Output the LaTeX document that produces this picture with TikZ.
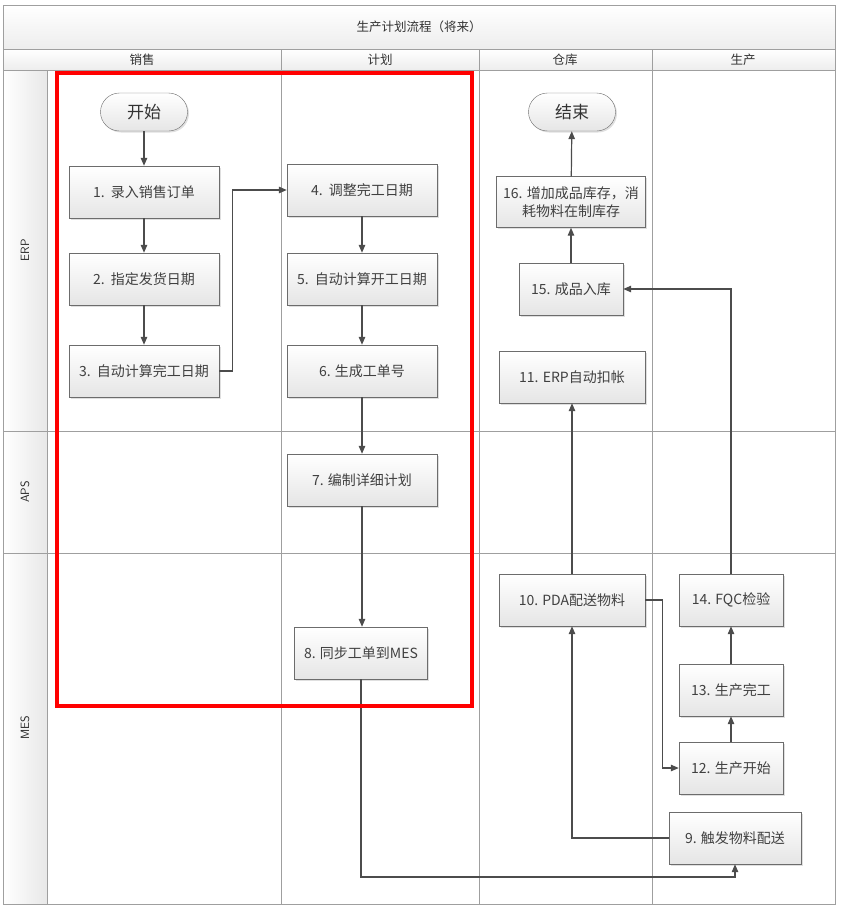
\documentclass[tikz,border=0pt]{standalone}
\usepackage{fontspec}
\newfontfamily\cjk{Noto Sans CJK SC}
\usetikzlibrary{arrows.meta,shadows}
\tikzset{
myBox/.style={
	rectangle, draw=gray!85!black, top color=white, bottom color=gray!20,
	drop shadow={shadow xshift=1.5pt, shadow yshift=-1.5pt, opacity=0.25},
	inner sep=0pt, minimum height=52pt, text=black!75,
	align=center, font=\cjk\fontsize{14}{18}\selectfont
}
, myTerm/.style={
	rectangle, rounded corners=19pt, draw=gray!85!black,
	top color=white, bottom color=gray!20,
	drop shadow={shadow xshift=1.5pt, shadow yshift=-1.5pt, opacity=0.25},
	minimum width=87pt, minimum height=38pt, inner sep=0pt,
	text=black!80, font=\cjk\fontsize{17}{20}\selectfont
}
% lanes
, myLane/.style={draw=gray!75, line width=1pt}
, myHead/.style={font=\cjk\fontsize{12.5}{15}\selectfont, text=black!80}
, myLaneName/.style={font=\sffamily\fontsize{12}{14}\selectfont, rotate=90, text=black!85}
% link
, myLink/.style={-{Triangle[length=8pt,width=6.5pt]}, draw=black!70, line width=1.2pt}
}

\begin{document}
\begin{tikzpicture}[x=1pt, y=-1pt]
	\useasboundingbox (0,0) rectangle (843,910);
	% pool
	\shade[top color=white, bottom color=gray!14] (3,5) rectangle (835,49);
	\shade[top color=white, bottom color=gray!14] (3,49) rectangle (835,70);
	\shade[left color=white, right color=gray!18] (3,70) rectangle (47,904);
	\draw[myLane] (3,5) rectangle (835,904);
	\draw[myLane] (3,49) -- (835,49);
	\draw[myLane] (3,70) -- (835,70);
	\draw[myLane] (3,431) -- (835,431);
	\draw[myLane] (3,553) -- (835,553);
	\draw[myLane] (47,70) -- (47,904);
	\foreach \x in {281,479,652}
		\draw[myLane] (\x,49) -- (\x,904);
	\node[myHead] (Title) at (419,27) {生产计划流程（将来）};
	\node[myHead] (Sales) at (142,60) {销售};
	\node[myHead] (Plan) at (380,60) {计划};
	\node[myHead] (Store) at (565,60) {仓库};
	\node[myHead] (Make) at (743,60) {生产};
	\node[myLaneName] (ERP) at (25,250) {ERP};
	\node[myLaneName] (APS) at (25,492) {APS};
	\node[myLaneName] (MES) at (25,728) {MES};

	% nodes
	\node[myTerm] (Start) at (144,112) {开始};
	\node[myBox, minimum width=150pt] (Step1) at (144,192) {1.\ \ 录入销售订单};
	\node[myBox, minimum width=150pt] (Step2) at (144,279) {2.\ \ 指定发货日期};
	\node[myBox, minimum width=150pt] (Step3) at (144,371) {3.\ \ 自动计算完工日期};
	\node[myBox, minimum width=150pt] (Step4) at (362,190) {4.\ \ 调整完工日期};
	\node[myBox, minimum width=150pt] (Step5) at (362,279) {5.\ \ 自动计算开工日期};
	\node[myBox, minimum width=150pt] (Step6) at (362,371) {6. 生成工单号};
	\node[myBox, minimum width=150pt] (Step7) at (362,480) {7. 编制详细计划};
	\node[myBox, minimum width=133pt] (Step8) at (361,653) {8. 同步工单到MES};
	\node[myBox, minimum width=132pt] (Step9) at (735,838) {9. 触发物料配送};
	\node[myBox, minimum width=146pt] (Step10) at (572,600) {10. PDA配送物料};
	\node[myBox, minimum width=146pt] (Step11) at (572,377) {11. ERP自动扣帐};
	\node[myBox, minimum width=104pt] (Step12) at (731,768) {12. 生产开始};
	\node[myBox, minimum width=104pt] (Step13) at (731,690) {13. 生产完工};
	\node[myBox, minimum width=104pt] (Step14) at (731,600) {14. FQC检验};
	\node[myBox, minimum width=104pt] (Step15) at (571,289) {15. 成品入库};
	\node[myBox, minimum width=149pt, minimum height=51pt] (Step16) at (571,202)
		{16. 增加成品库存，消\\耗物料在制库存};
	\node[myTerm] (End) at (572,112) {结束};
	\coordinate (Turn8) at (361,877);

	% links
	\draw[myLink] (Start) -- (Step1);
	\draw[myLink] (Step1) -- (Step2);
	\draw[myLink] (Step2) -- (Step3);
	\draw[myLink] (Step3.east) -- ++(13,0) |- (Step4.west);
	\draw[myLink] (Step4) -- (Step5);
	\draw[myLink] (Step5) -- (Step6);
	\draw[myLink] (Step6) -- (Step7);
	\draw[myLink] (Step7.south) -- (Step8.north -| Step7.south);
	\draw[myLink] (Step8.south) -- (Turn8) -| (Step9.south);
	\draw[myLink] (Step9.west) -| (Step10.south);
	\draw[myLink] (Step10.east) -- ++(17,0) |- (Step12.west);
	\draw[myLink] (Step10) -- (Step11);
	\draw[myLink] (Step12) -- (Step13);
	\draw[myLink] (Step13) -- (Step14);
	\draw[myLink] (Step14.north) |- (Step15.east);
	\draw[myLink] (Step15) -- (Step16);
	\draw[myLink] (Step16) -- (End);

	% scope of the plan
	\draw[red, line width=4pt] (57,73) rectangle (472,706);
\end{tikzpicture}
\end{document}
